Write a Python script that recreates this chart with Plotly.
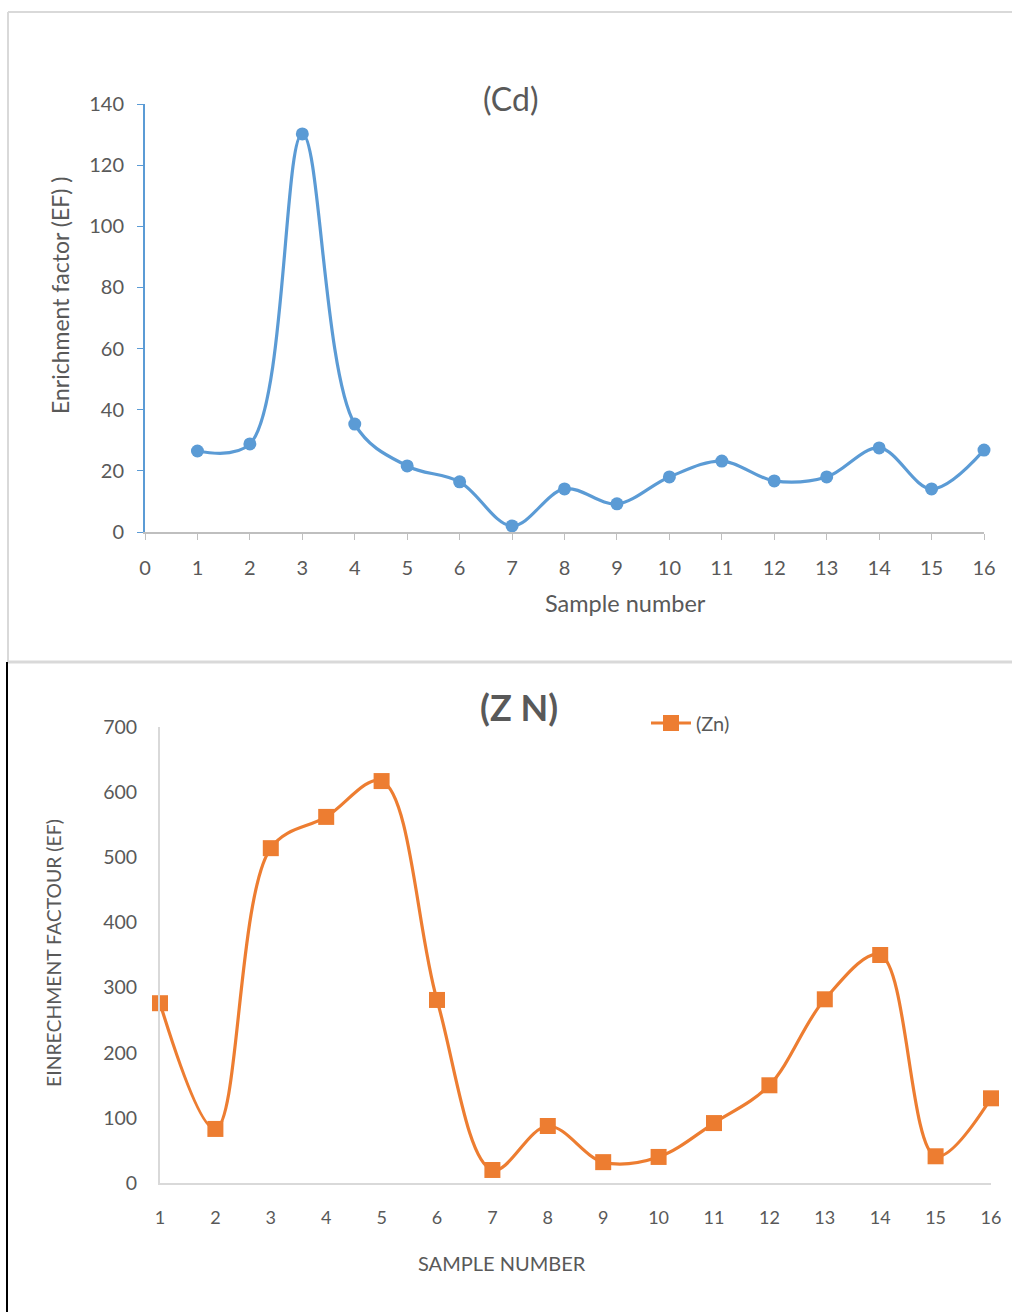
import plotly.graph_objects as go

W, H = 1012, 1312

samples_cd = list(range(1, 17))
cd_values = [26.5, 28.8, 130.2, 35.3, 21.6, 16.4, 2.0, 14.1, 9.2, 18.0, 23.2, 16.7, 18.0, 27.5, 14.1, 26.8]
cd_xticks = list(range(0, 17))
cd_yticks = [0, 20, 40, 60, 80, 100, 120, 140]

samples_zn = list(range(1, 17))
zn_values = [276, 83, 514, 562, 617, 281, 20, 87.5, 32, 40, 92, 150, 282, 350, 41, 130]
zn_xticks = list(range(1, 17))
zn_yticks = [0, 100, 200, 300, 400, 500, 600, 700]

BLUE = "#5B9BD5"
ORANGE = "#ED7D31"
TXT = "#595959"
GRID = "#D9D9D9"
FONT = "Lato"

def px(x):
    return x / W

def py(y):
    return 1 - y / H

fig = go.Figure()

fig.add_trace(go.Scatter(
    x=samples_cd, y=cd_values, mode="lines+markers", name="(Cd)",
    line=dict(color=BLUE, width=3.2, shape="spline", smoothing=1.0),
    marker=dict(symbol="circle", size=13, color=BLUE),
    xaxis="x", yaxis="y", showlegend=False, cliponaxis=False))

fig.add_trace(go.Scatter(
    x=samples_zn, y=zn_values, mode="lines+markers", name="(Zn)",
    line=dict(color=ORANGE, width=3.2, shape="spline", smoothing=1.0),
    marker=dict(symbol="square", size=16, color=ORANGE),
    xaxis="x2", yaxis="y2", showlegend=True, cliponaxis=False))

fig.update_layout(
    width=W, height=H,
    margin=dict(l=0, r=0, t=0, b=0, pad=0, autoexpand=False),
    paper_bgcolor="white", plot_bgcolor="white",
    font=dict(family=FONT, color=TXT),
    xaxis=dict(domain=[px(145), px(984)], range=[0, 16], tickvals=cd_xticks,
               showgrid=False, zeroline=False, showline=True, linecolor="#BFBFBF", linewidth=2,
               ticks="outside", ticklen=6, tickcolor="#BFBFBF", tickwidth=1,
               tickfont=dict(size=20, color=TXT, family=FONT), ticklabelstandoff=11,
               anchor="y", automargin=False),
    yaxis=dict(domain=[py(532), py(104)], range=[0, 140], tickvals=cd_yticks,
               showgrid=False, zeroline=False, showline=True, linecolor=BLUE, linewidth=2,
               ticks="outside", ticklen=6, tickcolor=BLUE, tickwidth=1,
               tickfont=dict(size=20, color=TXT, family=FONT), ticklabelstandoff=9,
               anchor="x", automargin=False),
    xaxis2=dict(domain=[px(160), px(991)], range=[1, 16], tickvals=zn_xticks,
                showgrid=False, zeroline=False, showline=True, linecolor=GRID, linewidth=2,
                ticks="", tickfont=dict(size=18, color=TXT, family=FONT), ticklabelstandoff=17,
                anchor="y2", automargin=False),
    yaxis2=dict(domain=[py(1183), py(727)], range=[0, 700], tickvals=zn_yticks,
                showgrid=False, zeroline=False, showline=True, linecolor=GRID, linewidth=2,
                ticks="", tickfont=dict(size=19.5, color=TXT, family=FONT), ticklabelstandoff=17,
                anchor="x2", automargin=False),
    legend=dict(x=px(646), y=py(723), xanchor="left", yanchor="middle",
                font=dict(size=20, color=TXT, family=FONT), bgcolor="rgba(0,0,0,0)",
                itemwidth=40),
)

annotations = [
    dict(text="(Cd)", x=px(510), y=py(98), font=dict(size=32, color=TXT)),
    dict(text="<b>(Z N)</b>", x=px(519), y=py(707), font=dict(size=36, color=TXT)),
    dict(text="Sample number", x=px(625), y=py(603), font=dict(size=23.5, color=TXT)),
    dict(text="SAMPLE NUMBER", x=px(502), y=py(1263), font=dict(size=20, color=TXT)),
    dict(text="Enrichment factor (EF) )", x=px(60), y=py(296), textangle=-90, font=dict(size=23, color=TXT)),
    dict(text="EINRECHMENT FACTOUR (EF)", x=px(54), y=py(953), textangle=-90, font=dict(size=19.4, color=TXT)),
]
for a in annotations:
    a.update(xref="paper", yref="paper", showarrow=False, xanchor="center", yanchor="middle")
fig.update_layout(annotations=annotations)

fig.update_layout(shapes=[
    dict(type="line", xref="paper", yref="paper", x0=px(8), x1=1, y0=py(12), y1=py(12),
         line=dict(color=GRID, width=2)),
    dict(type="line", xref="paper", yref="paper", x0=px(8), x1=px(8), y0=py(12), y1=py(662),
         line=dict(color=GRID, width=2)),
    dict(type="line", xref="paper", yref="paper", x0=px(8), x1=1, y0=py(662), y1=py(662),
         line=dict(color=GRID, width=3)),
    dict(type="line", xref="paper", yref="paper", x0=px(7), x1=px(7), y0=py(662), y1=0,
         line=dict(color="black", width=2)),
])

fig.write_html("out.html", config={"displayModeBar": False},
               post_script="document.body.style.margin='0';document.body.style.padding='0';"
                           "document.documentElement.style.margin='0';"
                           "document.body.style.overflow='hidden';"
                           "document.documentElement.style.overflow='hidden';")
